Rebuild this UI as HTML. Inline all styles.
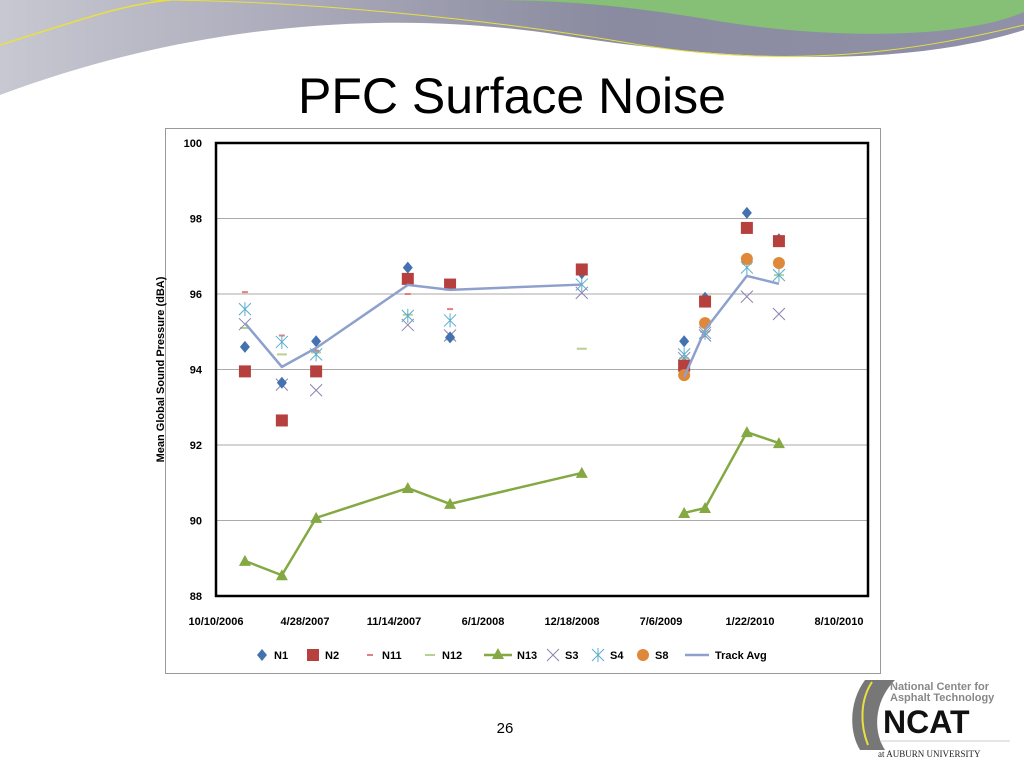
<!DOCTYPE html>
<html><head><meta charset="utf-8"><style>
body{margin:0;width:1024px;height:768px;overflow:hidden;background:#fff;font-family:"Liberation Sans",sans-serif}
</style></head><body>
<svg id="s" width="1024" height="768" xmlns="http://www.w3.org/2000/svg">
<defs><linearGradient id="gr" x1="0" x2="1"><stop offset="0" stop-color="#c8c8d2"/><stop offset="0.6" stop-color="#8a8aa0"/><stop offset="1" stop-color="#9090a8"/></linearGradient></defs>
<g>
<path d="M0,0 L1024,0 L1024,30 C900,70 720,60 560,35 C400,10 200,20 0,95 Z" fill="url(#gr)"/>
<path d="M225,0 L1024,0 L1024,12 C960,40 820,40 700,18 C620,5 560,0 480,0 Z" fill="#86bf76"/>
<path d="M0,45 C80,20 120,5 170,0" stroke="#e8e040" stroke-width="1.5" fill="none"/>
<path d="M150,0 C300,0 500,20 640,45 C800,70 920,50 1024,25" stroke="#e8e040" stroke-width="1" fill="none"/>
</g>
<text x="512" y="113" text-anchor="middle" font-size="50" font-family="Liberation Sans">PFC Surface Noise</text>
<rect x="165.5" y="128.5" width="715" height="545" fill="#fff" stroke="#999"/>
<g id="chart"></g>
<text x="505" y="733" text-anchor="middle" font-size="15">26</text>
<g>
<path d="M865,680 C850,700 848,730 860,750 L885,750 C872,730 875,700 895,680 Z" fill="#777"/>
<path d="M872,682 C860,700 860,725 868,745" stroke="#e8e040" stroke-width="2" fill="none"/>
<text x="890" y="690" font-size="11" font-weight="bold" fill="#888">National Center for</text>
<text x="890" y="701" font-size="11" font-weight="bold" fill="#888">Asphalt Technology</text>
<text x="883" y="733" font-size="32" font-weight="bold" fill="#111">NCAT</text>
<line x1="880" y1="741" x2="1010" y2="741" stroke="#ccc"/>
<text x="878" y="757" font-size="9" font-family="Liberation Serif" fill="#222">at AUBURN UNIVERSITY</text>
</g>
</svg>
<script>
const days=[65,148,225,431,526,822,1052,1099,1193,1265];
const n1=[94.6,93.65,94.75,96.7,94.85,96.55,94.75,95.9,98.15,97.45];
const n2=[93.95,92.65,93.95,96.4,96.25,96.65,94.1,95.8,97.75,97.4];
const n11=[96.05,94.9,94.5,96.0,95.6,96.6,94.0,95.7,97.7,97.5];
const n12=[95.1,94.4,94.45,95.45,94.8,94.55,94.3,95.0,96.8,96.5];
const n13=[88.93,88.55,90.07,90.86,90.44,91.26,90.2,90.33,92.34,92.05];
const s3=[95.2,93.6,93.45,95.18,94.9,96.03,94.3,94.9,95.93,95.47];
const s4=[95.6,94.73,94.4,95.42,95.3,96.25,94.4,94.97,96.7,96.5];
const s8=[null,null,null,null,null,null,93.85,95.23,96.93,96.82];
const avg=[95.23,94.07,94.57,96.24,96.11,96.25,93.8,95.05,96.48,96.27];
const xTicks=["10/10/2006","4/28/2007","11/14/2007","6/1/2008","12/18/2008","7/6/2009","1/22/2010","8/10/2010"];
const yTicks=[88,90,92,94,96,98,100];
const NS="http://www.w3.org/2000/svg";
const g=document.getElementById('chart');
const L=216,R=868,T=143,B=596,XR=839;
const X=d=>L+d*(XR-L)/1400;
const Y=v=>B-(v-88)*(B-T)/12;
function el(t,a,p){const e=document.createElementNS(NS,t);for(const k in a)e.setAttribute(k,a[k]);(p||g).appendChild(e);return e;}
yTicks.forEach(v=>{
 const l=el('line',{x1:L,x2:R,y1:Y(v),y2:Y(v),stroke:'#aaa','stroke-width':1});
 
 
 const t=el('text',{x:L-14,y:Y(v)+4,'text-anchor':'end','font-size':11,'font-weight':'bold'});t.textContent=v;
 
 
});
xTicks.forEach((s,i)=>{
 const t=el('text',{x:X(i*200),y:B+29,'text-anchor':'middle','font-size':11,'font-weight':'bold'});t.textContent=s;
 
 
});
const box=el('rect',{x:L,y:T,width:R-L,height:B-T,fill:'none',stroke:'#000','stroke-width':2.5});


const yt=el('text',{x:0,y:0,transform:`translate(164,${(T+B)/2}) rotate(-90)`,'text-anchor':'middle','font-size':11,'font-weight':'bold'});
yt.textContent='Mean Global Sound Pressure (dBA)';


function marker(type,x,y,p){
 let e;
 if(type==='d')e=el('path',{d:`M${x},${y-6}L${x+5},${y}L${x},${y+6}L${x-5},${y}Z`,fill:'#4472b0'},p);
 if(type==='s')e=el('rect',{x:x-6,y:y-6,width:12,height:12,fill:'#b5403d'},p);
 if(type==='n11')e=el('line',{x1:x-3,x2:x+3,y1:y,y2:y,stroke:'#e08080','stroke-width':2},p);
 if(type==='n12')e=el('line',{x1:x-5,x2:x+5,y1:y,y2:y,stroke:'#b8d090','stroke-width':2},p);
 if(type==='t')e=el('path',{d:`M${x},${y-6}L${x+6},${y+5}L${x-6},${y+5}Z`,fill:'#84a842'},p);
 if(type==='x')e=el('path',{d:`M${x-6},${y-6}L${x+6},${y+6}M${x+6},${y-6}L${x-6},${y+6}`,stroke:'#8c82b0','stroke-width':1},p);
 if(type==='a')e=el('path',{d:`M${x-6},${y-6}L${x+6},${y+6}M${x+6},${y-6}L${x-6},${y+6}M${x},${y-7}L${x},${y+7}`,stroke:'#5aaccc','stroke-width':1},p);
 if(type==='c')e=el('circle',{cx:x,cy:y,r:6,fill:'#e0883a'},p);
 return e;
}
function series(arr,type,name,line,color){
 const grp=el('g',{});
 
 
 if(line){
  [[0,6],[6,10]].forEach(([a,b])=>{
   const pts=[];for(let i=a;i<b;i++)if(arr[i]!=null)pts.push(X(days[i])+','+Y(arr[i]));
   const pl=el('polyline',{points:pts.join(' '),fill:'none',stroke:color,'stroke-width':2.5},grp);
   
   
  });
 }
 arr.forEach((v,i)=>{if(v==null||!type)return;const m=marker(type,X(days[i]),Y(v),grp);
  
  });
}
series(n12,'n12','n12');
series(n11,'n11','n11');
series(s3,'x','s3');
series(s4,'a','s4');
series(n1,'d','n1');
series(n2,'s','n2');
series(s8,'c','s8');
series(avg,null,'track-avg',true,'#8ea0cc');
series(n13,'t','n13',true,'#84a842');
const leg=[['d','N1',262],['s','N2',313],['n11','N11',370],['n12','N12',430],['t','N13',498],['x','S3',553],['a','S4',598],['c','S8',643],['avg','Track Avg',697]];
leg.forEach(([t,lab,x])=>{
 const lg=el('g',{});
 
 
 const y=655;
 if(t==='avg'){el('line',{x1:x-12,x2:x+12,y1:y,y2:y,stroke:'#8ea0cc','stroke-width':2.5},lg);}
 else if(t==='t'){el('line',{x1:x-14,x2:x+14,y1:y,y2:y,stroke:'#84a842','stroke-width':2.5},lg);marker('t',x,y-1,lg);}
 else marker(t,x,y,lg);
 const tx=el('text',{x:x+(t==='avg'?18:(t==='t'?19:12)),y:y+4,'font-size':11,'font-weight':'bold'},lg);tx.textContent=lab;
});
</script>
</body></html>
